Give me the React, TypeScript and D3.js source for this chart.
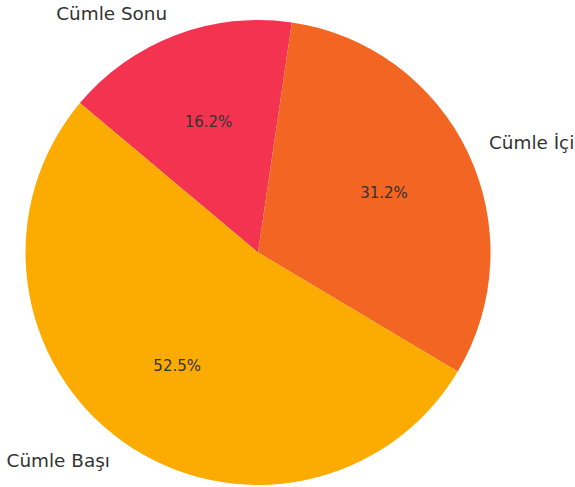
import React from "react";
import * as d3 from "d3";

const categories = ["Cümle Sonu", "Cümle İçi", "Cümle Başı"];
const values = [16.2, 31.2, 52.5];
const colors = ["#F43350", "#F26522", "#FCAB00"];

const W = 575;
const H = 487;
const cx = 258;
const cy = 252.5;
const R = 232.5;
const startDeg = -50;

export default function App() {
  const pie = d3
    .pie<number>()
    .sort(null)
    .startAngle((startDeg * Math.PI) / 180)
    .endAngle((startDeg * Math.PI) / 180 + 2 * Math.PI)(values);
  const arc = d3.arc<d3.PieArcDatum<number>>().innerRadius(0).outerRadius(R);
  return (
    <svg width={W} height={H} style={{ position: "absolute", left: 0, top: 0 }}>
      <rect width={W} height={H} fill="#fff" />
      <g transform={`translate(${cx},${cy})`}>
        {pie.map((d, i) => (
          <path key={"s" + i} d={arc(d) || ""} fill={colors[i]} />
        ))}
        {pie.map((d, i) => {
          const a = (d.startAngle + d.endAngle) / 2;
          const sx = Math.sin(a);
          const sy = -Math.cos(a);
          const lx = sx * R * 1.1;
          const ly = sy * R * 1.1;
          const px = sx * R * 0.6;
          const py = sy * R * 0.6;
          return (
            <g key={"t" + i} fontFamily="DejaVu Sans" fill="#333333">
              <text
                x={lx}
                y={ly}
                fontSize={18.4}
                textAnchor={sx >= 0 ? "start" : "end"}
                dominantBaseline="central"
              >
                {categories[i]}
              </text>
              <text x={px} y={py} fontSize={15} textAnchor="middle" dominantBaseline="central">
                {values[i].toFixed(1) + "%"}
              </text>
            </g>
          );
        })}
      </g>
    </svg>
  );
}
